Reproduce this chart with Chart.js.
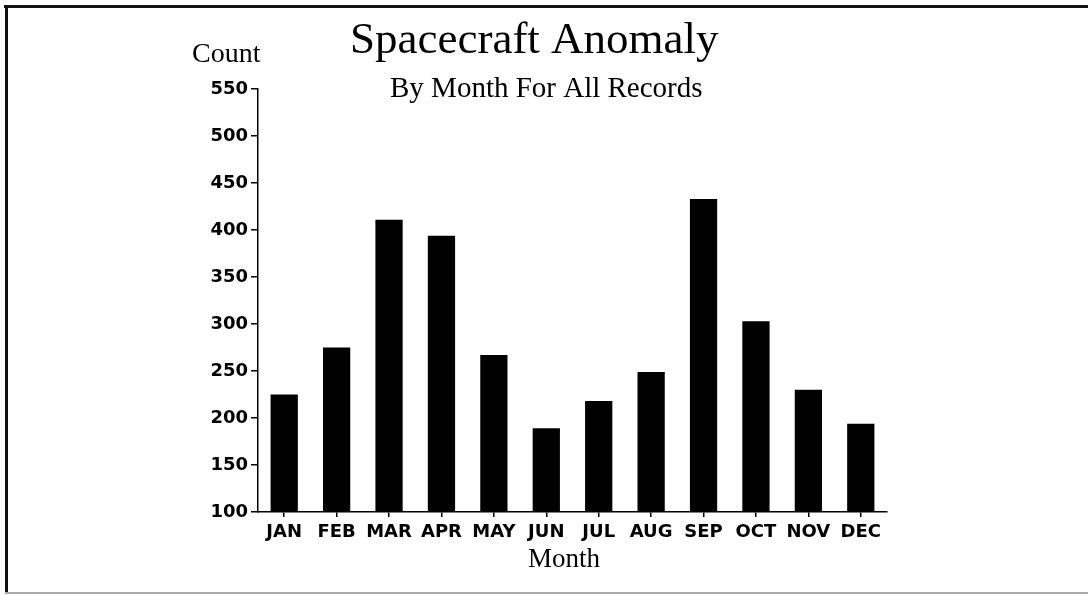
<!DOCTYPE html>
<html>
<head>
<meta charset="utf-8">
<title>Spacecraft Anomaly</title>
<script src="https://cdn.jsdelivr.net/npm/chart.js@4.4.0/dist/chart.umd.min.js"></script>
<style>
    html, body { margin: 0; padding: 0; background: #fff; overflow: hidden; }
    #wrap { position: relative; width: 1088px; height: 595px; }
    #anomalyChart { position: absolute; left: 0; top: 0; }
    .rule { position: absolute; }
</style>
</head>
<body>
<div id="wrap">
    <canvas id="anomalyChart" width="1088" height="595"></canvas>
    <!-- page frame from the scan -->
    <div class="rule" style="left:4px;top:5px;width:1084px;height:3px;background:#111;"></div>
    <div class="rule" style="left:5px;top:5px;width:3px;height:589px;background:#111;"></div>
    <div class="rule" style="left:5px;top:592px;width:1083px;height:2px;background:#aaa;"></div>
</div>
<script>
// ------------------- Data -------------------
const months = ['JAN', 'FEB', 'MAR', 'APR', 'MAY', 'JUN', 'JUL', 'AUG', 'SEP', 'OCT', 'NOV', 'DEC'];
const counts = [225, 275, 411, 394, 267, 189, 218, 249, 433, 303, 230, 194];
const yMin = 100;
const yMax = 550;
const yStep = 50;

const titleText = 'Spacecraft Anomaly';
const subtitleText = 'By Month For All Records';
const yAxisText = 'Count';
const xAxisText = 'Month';

const serif = '"Liberation Serif", "DejaVu Serif", serif';
const tickFont = { family: '"DejaVu Sans", "Liberation Sans", sans-serif', size: 18, weight: 'bold' };

// titles and axis names sit at fixed spots, not centred on the plot
const headingText = {
    id: 'headingText',
    afterDraw(chart) {
        const ctx = chart.ctx;
        ctx.save();
        ctx.fillStyle = '#000';
        ctx.textAlign = 'left';
        ctx.textBaseline = 'alphabetic';

        ctx.font = '45px ' + serif;
        ctx.fillText(titleText, 350, 53);

        ctx.font = '29px ' + serif;
        ctx.fillText(subtitleText, 390, 97);

        ctx.font = '28px ' + serif;
        ctx.fillText(yAxisText, 192, 62);

        ctx.font = '27px ' + serif;
        ctx.fillText(xAxisText, 528, 567);
        ctx.restore();
    }
};

new Chart(document.getElementById('anomalyChart'), {
    type: 'bar',
    data: {
        labels: months,
        datasets: [{
            label: yAxisText,
            data: counts,
            backgroundColor: '#000',
            borderWidth: 0,
            barPercentage: 0.52,
            categoryPercentage: 1.0
        }]
    },
    options: {
        responsive: false,
        animation: false,
        layout: {
            padding: { left: 0, right: 201, top: 89, bottom: 0 }
        },
        plugins: {
            legend: { display: false },
            tooltip: { enabled: false }
        },
        scales: {
            x: {
                afterFit: (scale) => { scale.height = 83; },
                border: { display: true, color: '#000', width: 1.5 },
                grid: {
                    offset: false,
                    drawOnChartArea: false,
                    drawTicks: true,
                    tickLength: 5,
                    color: '#000',
                    lineWidth: 1.5
                },
                ticks: {
                    color: '#000',
                    font: tickFont,
                    padding: 5,
                    maxRotation: 0,
                    autoSkip: false
                }
            },
            y: {
                min: yMin,
                max: yMax,
                afterFit: (scale) => { scale.width = 258; },
                border: { display: true, color: '#000', width: 1.5 },
                grid: {
                    drawOnChartArea: false,
                    drawTicks: true,
                    tickLength: 7,
                    color: '#000',
                    lineWidth: 1.5
                },
                ticks: {
                    stepSize: yStep,
                    color: '#000',
                    font: tickFont,
                    padding: 3
                }
            }
        }
    },
    plugins: [headingText]
});
</script>
</body>
</html>
